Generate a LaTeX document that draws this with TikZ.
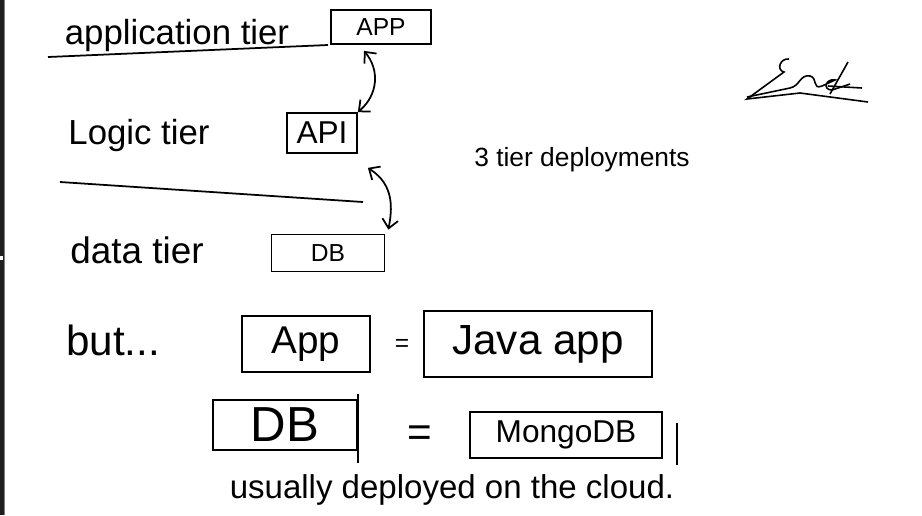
\documentclass[tikz,border=0pt]{standalone}
\usepackage{fontspec}
\setmainfont{Liberation Sans}
\usetikzlibrary{calc}
\usetikzlibrary{arrows.meta}

\tikzset{
  hand/.style={font=\fontsize{#1}{#1}\selectfont, inner sep=0pt},
  tierbox/.style={draw, line width=1pt, inner sep=0pt},
  link/.style={line width=1pt, {Straight Barb[length=5pt,width=9pt]}-{Straight Barb[length=5pt,width=9pt]}},
}

\begin{document}
\begin{tikzpicture}[x=0.02cm,y=-0.02cm,line width=1pt]
\useasboundingbox (0,0) rectangle (922,515);
\fill[white] (0,0) rectangle (922,515);
\fill[black!88] (0,0) rectangle (4,515);
\draw[gray,line width=0.6pt] (4.5,0) -- (4.5,515);
\fill[white] (0,256) rectangle (3,260);


% tiers
\draw (177,35) node[hand=19.8] (apptier) {application tier};
\draw (139,135) node[hand=19.8] (logictier) {Logic tier};
\draw (137,250) node[hand=21] (datatier) {data tier};
\draw (48,57) -- (328,45);
\draw (60,182) -- (363,202);

\draw (381,27) node[tierbox,hand=14,minimum width=2cm,minimum height=0.68cm] (app) {APP};
\draw (322,133) node[tierbox,hand=18,minimum width=1.4cm,minimum height=0.8cm] (api) {API};
\draw (328,253) node[tierbox,hand=14,minimum width=2.26cm,minimum height=0.74cm] (dbtop) {DB};

\draw[link] ($(app.south)+(-17,6)$) .. controls (380,70) and (378,95) .. (api.north east);
\draw[link] ($(api.south east)+(10,14)$) .. controls (395,185) and (392,210) .. ($(dbtop.north east)+(3,-4)$);

\draw (582,160) node[hand=15] (deploy) {3 tier deployments};

% signature
\draw[line width=0.9pt] (789,59) .. controls (780,58) and (776,70) .. (784,72) -- (747,99) -- (800,93) -- (868,102);
\draw[line width=0.9pt] (747,97) -- (790,88) .. controls (800,86) and (800,74) .. (810,76) .. controls (818,78) and (812,90) .. (822,86) -- (835,80) .. controls (826,78) and (822,90) .. (832,90) -- (850,84);
\draw[line width=0.9pt] (848,62) -- (830,94);
\draw[line width=0.9pt] (828,86) -- (862,88);


% but...
\draw (113,340) node[hand=24] (but) {but...};
\draw (306,344) node[tierbox,hand=22,minimum width=2.56cm,minimum height=1.12cm] (appbox) {App};
\draw (402,345) node[hand=14] (eqa) {=};
\draw (538,344) node[tierbox,hand=24,minimum width=4.56cm,minimum height=1.32cm] (java) {Java app};

\draw (285,425) node[tierbox,hand=28,minimum width=2.88cm,minimum height=1cm] (dbbig) {DB};
\draw ($(dbbig.north east)+(0,-5)$) -- ($(dbbig.south east)+(0,12)$);
\draw (420,436) node[hand=24] (eqb) {=};
\draw (566,435) node[tierbox,hand=18,minimum width=3.84cm,minimum height=0.92cm] (mongo) {MongoDB};
\draw ($(mongo.north east)+(14,12)$) -- ($(mongo.south east)+(14,6)$);

\draw (452,490) node[hand=18.8] (cloud) {usually deployed on the cloud.};

\end{tikzpicture}
\end{document}
